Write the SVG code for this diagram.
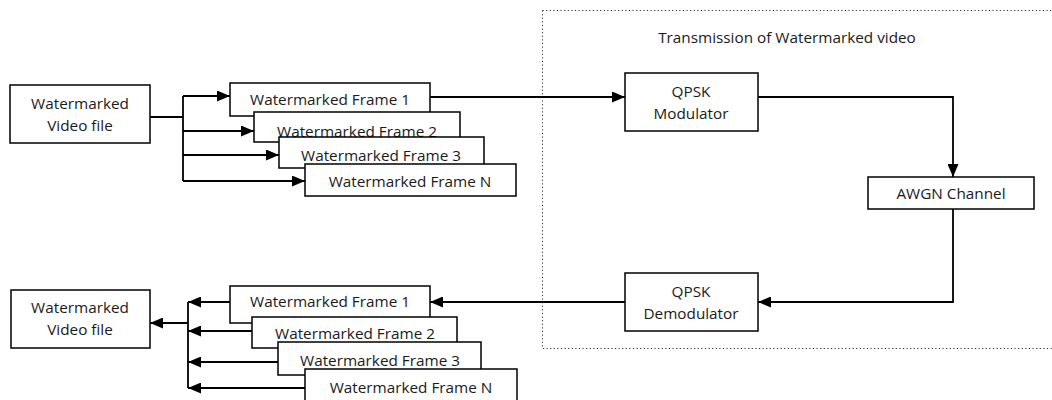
<svg xmlns="http://www.w3.org/2000/svg" width="1052" height="400" viewBox="0 0 1052 400">
<defs>
<style>
.box{fill:#fff;stroke:#000;stroke-width:1.5}
.t{font-family:"Open Sans","Noto Sans","DejaVu Sans",sans-serif;font-size:15.3px;fill:#1a1a1a;text-anchor:middle}
.ln{fill:none;stroke:#000;stroke-width:1.8}
.arr{fill:none;stroke:#000;stroke-width:1.8;marker-end:url(#ah)}
</style>
<marker id="ah" viewBox="0 0 13 11" refX="13" refY="5.5" markerWidth="13" markerHeight="11" markerUnits="userSpaceOnUse" orient="auto">
<path d="M0,0 L13,5.5 L0,11 Z" fill="#000"/>
</marker>
</defs>
<rect width="1052" height="400" fill="#fff"/>
<g id="transmission-group">
<path d="M542.5,10.5 H1060 M542.5,10.5 V348.5 H1060" fill="none" stroke="#333" stroke-width="1" stroke-dasharray="1.2,2.4"/>
<text class="t" x="787" y="43">Transmission of Watermarked video</text>
</g>
<g id="connectors">
<path class="ln" d="M150,117 H183 M183,96 V181"/>
<path class="arr" d="M183,96 H230"/>
<path class="arr" d="M183,131 H254"/>
<path class="arr" d="M183,155 H279"/>
<path class="arr" d="M183,181 H305"/>
<path class="arr" d="M430,97 H625"/>
<path class="arr" d="M758,97 H953 V177"/>
<path class="arr" d="M953,209 V302 H758"/>
<path class="arr" d="M625,302 H430"/>
<path class="ln" d="M188,302 V388"/>
<path class="arr" d="M230,302 H188"/>
<path class="arr" d="M252,331 H188"/>
<path class="arr" d="M278,362 H188"/>
<path class="arr" d="M305,388 H188"/>
<path class="arr" d="M188,323 H150"/>
</g>
<g id="video-file-in">
<rect class="box" x="10" y="85" width="140" height="58"/>
<text class="t" x="80" y="109">Watermarked</text>
<text class="t" x="80" y="131">Video file</text>
</g>
<g id="frame1-top">
<rect class="box" x="230" y="83" width="200" height="33"/>
<text class="t" x="330" y="105">Watermarked Frame 1</text>
</g>
<g id="frame2-top">
<rect class="box" x="254" y="112" width="206" height="30"/>
<text class="t" x="357" y="137">Watermarked Frame 2</text>
</g>
<g id="frame3-top">
<rect class="box" x="279" y="137" width="205" height="31"/>
<text class="t" x="381" y="161">Watermarked Frame 3</text>
</g>
<g id="frameN-top">
<rect class="box" x="305" y="164" width="211" height="32"/>
<text class="t" x="410" y="187">Watermarked Frame N</text>
</g>
<g id="qpsk-modulator">
<rect class="box" x="625" y="73" width="133" height="58"/>
<text class="t" x="691" y="97">QPSK</text>
<text class="t" x="691" y="119">Modulator</text>
</g>
<g id="awgn-channel">
<rect class="box" x="868" y="177" width="166" height="32"/>
<text class="t" x="951" y="199">AWGN Channel</text>
</g>
<g id="qpsk-demodulator">
<rect class="box" x="625" y="273" width="133" height="58"/>
<text class="t" x="691" y="297">QPSK</text>
<text class="t" x="691" y="319">Demodulator</text>
</g>
<g id="video-file-out">
<rect class="box" x="11" y="290" width="139" height="58"/>
<text class="t" x="80" y="313">Watermarked</text>
<text class="t" x="80" y="335">Video file</text>
</g>
<g id="frame1-bottom">
<rect class="box" x="230" y="286" width="200" height="37"/>
<text class="t" x="330" y="307">Watermarked Frame 1</text>
</g>
<g id="frame2-bottom">
<rect class="box" x="252" y="317" width="205" height="31"/>
<text class="t" x="355" y="339">Watermarked Frame 2</text>
</g>
<g id="frame3-bottom">
<rect class="box" x="278" y="342" width="203" height="33"/>
<text class="t" x="380" y="366">Watermarked Frame 3</text>
</g>
<g id="frameN-bottom">
<rect class="box" x="305" y="369" width="212" height="40"/>
<text class="t" x="411" y="393">Watermarked Frame N</text>
</g>
</svg>
